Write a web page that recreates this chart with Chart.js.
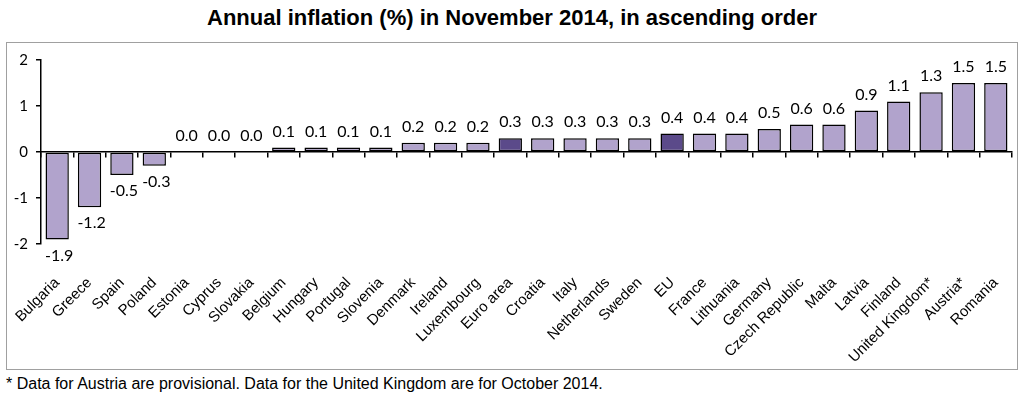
<!DOCTYPE html>
<html>
<head>
<meta charset="utf-8">
<script src="https://cdn.jsdelivr.net/npm/chart.js@4/dist/chart.umd.min.js"></script>
<style>
  body { margin: 0; background: #fff; width: 1024px; height: 403px; position: relative; overflow: hidden; }
  #title { position: absolute; left: 0; top: 5px; width: 1024px; text-align: center;
           font: bold 22px "Liberation Sans", Arial, sans-serif; color: #000; }
  #box { position: absolute; left: 6px; top: 42px; width: 1010px; height: 326px; border: 1px solid #a0a0a0; }
  #note { position: absolute; left: 6px; top: 375px; font: 16px "Liberation Sans", Arial, sans-serif; color: #000; }
</style>
</head>
<body>
<div id="title">Annual inflation (%) in November 2014, in ascending order</div>
<div id="box"><canvas id="chart"></canvas></div>
<div id="note">* Data for Austria are provisional. Data for the United Kingdom are for October 2014.</div>
<script>
let paises = ['Bulgaria', 'Greece', 'Spain', 'Poland', 'Estonia', 'Cyprus', 'Slovakia', 'Belgium',
    'Hungary', 'Portugal', 'Slovenia', 'Denmark', 'Ireland', 'Luxembourg', 'Euro area', 'Croatia',
    'Italy', 'Netherlands', 'Sweden', 'EU', 'France', 'Lithuania', 'Germany', 'Czech Republic',
    'Malta', 'Latvia', 'Finland', 'United Kingdom*', 'Austria*', 'Romania']
let inflacion = [-1.9, -1.2, -0.5, -0.3, 0.0, 0.0, 0.0, 0.1, 0.1, 0.1, 0.1, 0.2, 0.2, 0.2, 0.3, 0.3,
    0.3, 0.3, 0.3, 0.4, 0.4, 0.4, 0.5, 0.6, 0.6, 0.9, 1.1, 1.3, 1.5, 1.5]
let ticksY = [-2, -1, 0, 1, 2]
let agregados = ['Euro area', 'EU']

let colorClaro = '#b1a3cc'
let colorOscuro = '#5b4a8a'

// etiquetas de valor encima / debajo de cada barra
const etiquetasValor = {
    id: 'etiquetasValor',
    afterDatasetsDraw(chart) {
        const ctx = chart.ctx
        const meta = chart.getDatasetMeta(0)
        ctx.save()
        ctx.font = '16px Lato, "Open Sans", sans-serif'
        ctx.fillStyle = '#000'
        ctx.textAlign = 'center'
        meta.data.forEach((bar, i) => {
            const v = inflacion[i]
            if (v < 0) {
                ctx.textBaseline = 'top'
                ctx.fillText(v.toFixed(1), bar.x + 2, bar.y + 8)
            } else {
                ctx.textBaseline = 'bottom'
                ctx.fillText(v.toFixed(1), bar.x, bar.y - 8)
            }
        })
        ctx.restore()
    }
}

const ctx = document.getElementById('chart').getContext('2d')
new Chart(ctx, {
    type: 'bar',
    data: {
        labels: paises,
        datasets: [{
            data: inflacion,
            backgroundColor: paises.map(p => agregados.includes(p) ? colorOscuro : colorClaro),
            borderColor: '#000',
            borderWidth: 1.5,
            borderSkipped: false,
            barPercentage: 0.72,
            categoryPercentage: 1,
        }]
    },
    options: {
        responsive: true,
        maintainAspectRatio: false,
        animation: false,
        layout: { padding: { top: 13, right: 5, left: 0, bottom: 0 } },
        plugins: {
            legend: { display: false },
            tooltip: { enabled: false },
        },
        scales: {
            x: {
                type: 'category',
                position: { y: 0 },
                offset: true,
                grid: { offset: true, drawOnChartArea: false, drawTicks: true, tickLength: 5, color: '#000', lineWidth: 1.5 },
                border: { display: true, color: '#000', width: 1.5 },
                ticks: { display: false },
            },
            x2: {
                type: 'category',
                position: 'bottom',
                offset: true,
                grid: { display: false },
                border: { display: false },
                ticks: {
                    autoSkip: false,
                    maxRotation: 45,
                    minRotation: 45,
                    padding: 22,
                    color: '#000',
                    font: { family: '"Liberation Sans", Arial, sans-serif', size: 15 },
                },
                afterFit(scale) {
                    scale.height = 125
                    scale.paddingLeft = 0
                    scale.paddingRight = 0
                },
            },
            y: {
                min: -2,
                max: 2,
                afterBuildTicks(scale) { scale.ticks = ticksY.map(v => ({ value: v })) },
                grid: { drawOnChartArea: false, tickLength: 5, color: '#000', lineWidth: 1.5 },
                border: { display: true, color: '#000', width: 1.5 },
                ticks: {
                    color: '#000',
                    padding: 8,
                    font: { family: 'Lato, "Open Sans", sans-serif', size: 15 },
                },
                afterFit(scale) { scale.width = 34 },
            },
        },
    },
    plugins: [etiquetasValor],
})
</script>
</body>
</html>
